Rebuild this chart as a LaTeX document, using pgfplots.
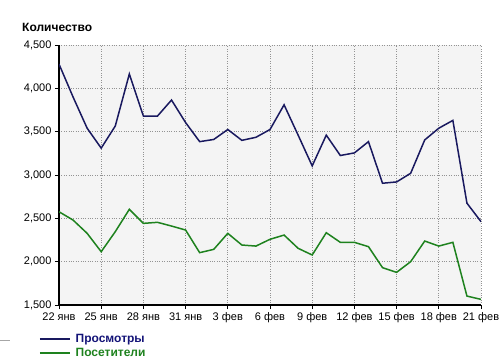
\documentclass[border=0pt]{standalone}
\usepackage{pgfplots}
\pgfplotsset{compat=1.18}
\usepackage{fontspec}
\setmainfont{Liberation Sans}
\definecolor{navyl}{RGB}{25,25,95}
\definecolor{navyt}{RGB}{20,20,120}
\definecolor{greenl}{RGB}{30,130,30}
\definecolor{bggray}{RGB}{244,244,244}
\begin{document}
\begin{tikzpicture}
\useasboundingbox (0bp,0bp) rectangle (499bp,-363bp);
\node[anchor=base west, font=\fontsize{12bp}{14bp}\selectfont\bfseries, inner sep=0] at (22bp,-31bp) {Количество};
\draw[gray!70, line width=1bp] (0bp,-340bp) -- (10bp,-340bp);
\begin{axis}[at={(59bp,-305bp)}, anchor=south west, scale only axis, width=422bp, height=260bp,
  xmin=0, xmax=30, ymin=1500, ymax=4500,
  xtick={0,3,...,30},
  xticklabels={22 янв,25 янв,28 янв,31 янв,3 фев,6 фев,9 фев,12 фев,15 фев,18 фев,21 фев},
  ytick={1500,2000,...,4500},
  axis lines=left, axis line style={-, line width=1.6bp, black},
  tick style={black, line width=0.8bp}, tick align=outside, major tick length=4bp,
  grid=major, grid style={dotted, gray!85, line width=0.7bp},
  axis background/.style={fill=bggray},
  ticklabel style={font=\fontsize{11bp}{13bp}\selectfont},
  legend style={at={(0,0)}, anchor=north west, xshift=-20bp, yshift=-27bp, draw=none, fill=none,
    font=\fontsize{12bp}{13bp}\selectfont\bfseries, row sep=0bp, column sep=3bp, inner sep=0pt},
  legend cell align=left,
  legend image code/.code={\draw[#1, line width=1.5bp] (0bp,0bp) -- (30bp,0bp);},
  /pgf/number format/assume math mode=true,
  /pgf/number format/.cd, 1000 sep={,}
]
\addplot[navyl, line width=1.5bp] coordinates {
(0,4280) (1,3900) (2,3540) (3,3310) (4,3565) (5,4165) (6,3680) (7,3680) (8,3865) (9,3605)
(10,3385) (11,3410) (12,3525) (13,3400) (14,3435) (15,3525) (16,3810) (17,3460) (18,3105) (19,3460)
(20,3225) (21,3255) (22,3385) (23,2905) (24,2920) (25,3020) (26,3405) (27,3540) (28,3630) (29,2675) (30,2462)};
\addlegendentry{\textcolor{navyt}{Просмотры}}
\addplot[greenl, line width=1.5bp] coordinates {
(0,2576) (1,2480) (2,2327) (3,2115) (4,2346) (5,2604) (6,2442) (7,2454) (8,2411) (9,2365)
(10,2104) (11,2142) (12,2327) (13,2192) (14,2180) (15,2258) (16,2307) (17,2154) (18,2077) (19,2334)
(20,2223) (21,2223) (22,2173) (23,1931) (24,1877) (25,2000) (26,2238) (27,2180) (28,2223) (29,1603) (30,1565)};
\addlegendentry{\textcolor{greenl}{Посетители}}
\end{axis}
\end{tikzpicture}
\end{document}
